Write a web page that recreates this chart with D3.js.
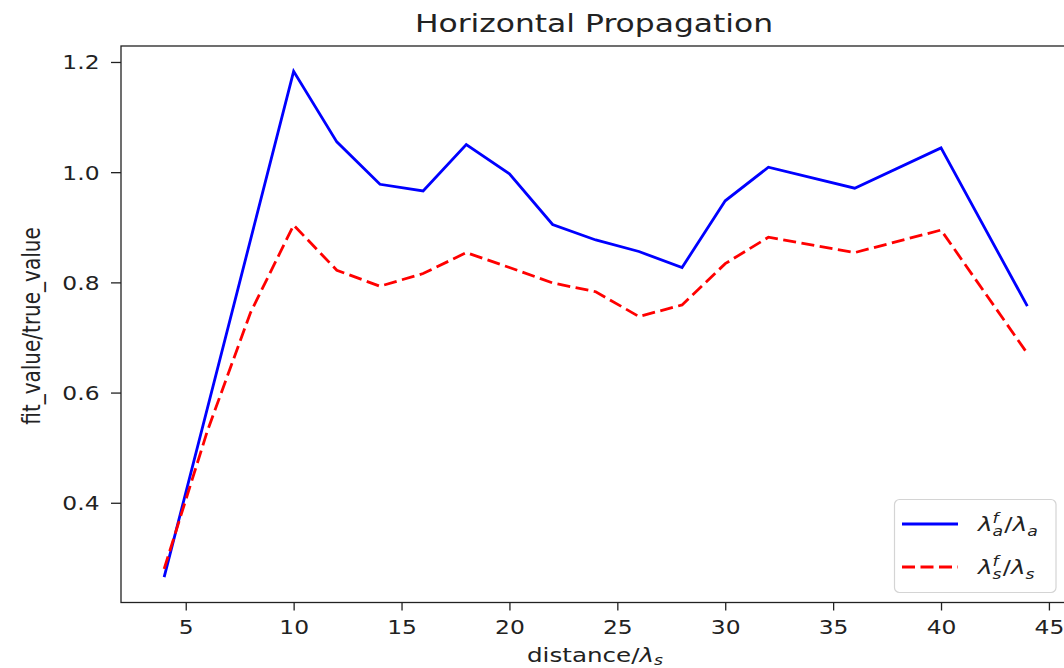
<!DOCTYPE html>
<html>
<head>
<meta charset="utf-8">
<script src="https://cdn.jsdelivr.net/npm/d3@7"></script>
<style>
  body { margin: 0; background: #fff; }
  svg { display: block; font-family: "DejaVu Sans", sans-serif; }
</style>
</head>
<body>
<svg width="1064" height="668"></svg>
<script>
// values
const distanceA = [4, 10, 12, 14, 16, 18, 20, 22, 24, 26, 28, 30, 32, 36, 40, 44];
const ratioA = [0.265, 1.183, 1.055, 0.978, 0.966, 1.05, 0.997, 0.905, 0.877, 0.856, 0.827, 0.948, 1.009, 0.971, 1.044, 0.757];

const distanceS = [4, 6, 8, 10, 12, 14, 16, 18, 20, 22, 24, 26, 28, 30, 32, 36, 40, 44];
const ratioS = [0.28, 0.53, 0.745, 0.904, 0.822, 0.793, 0.816, 0.854, 0.827, 0.799, 0.783, 0.738, 0.759, 0.834, 0.882, 0.854, 0.895, 0.671];

const xTicks = [5, 10, 15, 20, 25, 30, 35, 40, 45];
const yTicks = [0.4, 0.6, 0.8, 1.0, 1.2];

const sx = 1.23; // the whole figure is stretched sideways
const svg = d3.select('svg');

const x = d3.scaleLinear().domain([2, 46]).range([121, 1070.5]);
const y = d3.scaleLinear().domain([0.219, 1.229]).range([602.5, 46]);

// axes frame
svg.append('rect')
  .attr('x', x(2)).attr('y', y(1.229))
  .attr('width', x(46) - x(2)).attr('height', y(0.219) - y(1.229))
  .attr('fill', 'none').attr('stroke', '#222').attr('stroke-width', 1.3);

const xAxis = svg.append('g')
  .attr('transform', `translate(0,${y(0.219)})`)
  .call(d3.axisBottom(x).tickValues(xTicks).tickSize(8).tickFormat(d3.format('d')));
xAxis.select('.domain').remove();
xAxis.selectAll('line').attr('stroke', '#222').attr('stroke-width', 1.3);
xAxis.selectAll('text')
  .attr('y', null).attr('dy', null)
  .attr('transform', `translate(0,31.5) scale(${sx},1)`)
  .attr('fill', '#222').attr('font-size', 19).attr('font-family', 'DejaVu Sans');

const yAxis = svg.append('g')
  .attr('transform', `translate(${x(2)},0)`)
  .call(d3.axisLeft(y).tickValues(yTicks).tickSize(10).tickFormat(d3.format('.1f')));
yAxis.select('.domain').remove();
yAxis.selectAll('line').attr('stroke', '#222').attr('stroke-width', 1.3);
yAxis.selectAll('text')
  .attr('x', null).attr('dy', null)
  .attr('transform', `translate(-21.5,7) scale(${sx},1)`)
  .attr('fill', '#222').attr('font-size', 19).attr('font-family', 'DejaVu Sans');

// lines
const lineA = d3.line().x((d, i) => x(distanceA[i])).y(d => y(d));
const lineS = d3.line().x((d, i) => x(distanceS[i])).y(d => y(d));

svg.append('path')
  .attr('d', lineA(ratioA))
  .attr('fill', 'none').attr('stroke', '#0000ff').attr('stroke-width', 2.8);

svg.append('path')
  .attr('d', lineS(ratioS))
  .attr('fill', 'none').attr('stroke', '#ff0000').attr('stroke-width', 2.8)
  .attr('stroke-dasharray', '13,5.5');

// title and axis labels
svg.append('text')
  .attr('transform', `translate(594,32) scale(${sx},1)`)
  .attr('text-anchor', 'middle').attr('font-size', 25.5).attr('fill', '#222')
  .text('Horizontal Propagation');

svg.append('text')
  .attr('transform', `translate(40,326) scale(${sx},1) rotate(-90)`)
  .attr('text-anchor', 'middle').attr('font-size', 20).attr('fill', '#222')
  .text('fit_value/true_value');

const xl = svg.append('text')
  .attr('transform', `translate(595,662) scale(${sx},1)`)
  .attr('text-anchor', 'middle').attr('font-size', 20).attr('fill', '#222');
xl.append('tspan').text('distance/');
xl.append('tspan').attr('font-style', 'italic').text('λ');
xl.append('tspan').attr('font-style', 'italic').attr('font-size', 14).attr('dy', 3).text('s');

// legend
const legend = svg.append('g');
legend.append('rect')
  .attr('x', 894.5).attr('y', 499.5).attr('width', 161.5).attr('height', 93)
  .attr('rx', 5).attr('fill', '#fff').attr('fill-opacity', 0.8)
  .attr('stroke', '#d4d4d4').attr('stroke-width', 1.2);

const items = [
  { sub: 'a', color: '#0000ff', dash: null, ly: 524 },
  { sub: 's', color: '#ff0000', dash: '13,5.5', ly: 567 }
];

// λ_sub^f / λ_sub as one text, sup and sub stacked with a negative dx
function mathLabel(t, sub) {
  t.append('tspan').attr('font-style', 'italic').text('λ');
  const f = t.append('tspan').attr('font-style', 'italic').attr('font-size', 14).attr('dy', -8).text('f');
  const fw = f.node().getComputedTextLength();
  const s = t.append('tspan').attr('font-style', 'italic').attr('font-size', 14)
    .attr('dx', -fw).attr('dy', 13).text(sub);
  const extra = Math.max(0, fw - s.node().getComputedTextLength());
  t.append('tspan').attr('dx', extra + 1).attr('dy', -5).text('/');
  t.append('tspan').attr('font-style', 'italic').text('λ');
  t.append('tspan').attr('font-style', 'italic').attr('font-size', 14).attr('dy', 5).text(sub);
}

items.forEach(it => {
  legend.append('line')
    .attr('x1', 902).attr('x2', 958).attr('y1', it.ly).attr('y2', it.ly)
    .attr('stroke', it.color).attr('stroke-width', 2.8)
    .attr('stroke-dasharray', it.dash);
  const t = legend.append('text')
    .attr('transform', `translate(978,${it.ly + 7}) scale(${sx},1)`)
    .attr('font-size', 20).attr('fill', '#222');
  mathLabel(t, it.sub);
});
</script>
</body>
</html>
